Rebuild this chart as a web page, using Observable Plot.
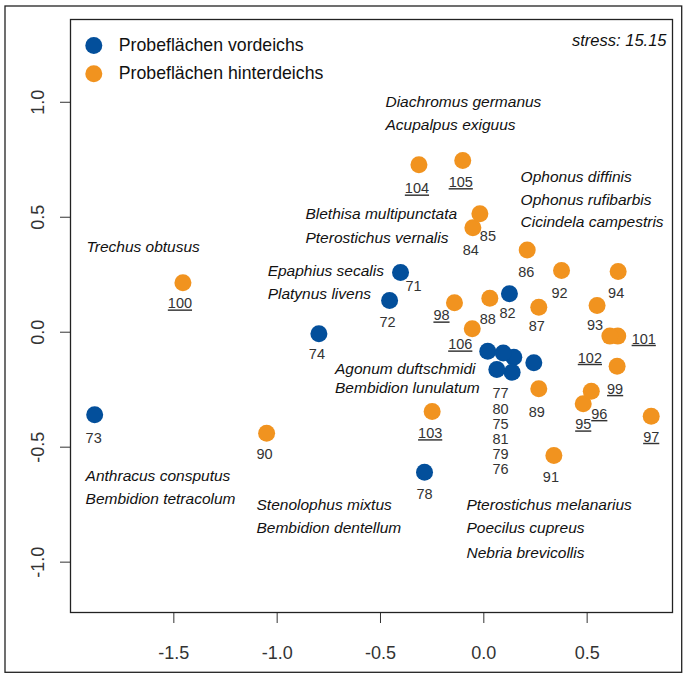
<!DOCTYPE html>
<html><head><meta charset="utf-8">
<script src="https://cdn.jsdelivr.net/npm/d3@7"></script>
<script src="https://cdn.jsdelivr.net/npm/@observablehq/plot@0.6"></script>
<style>
html,body{margin:0;padding:0;background:#fff;}
#chart{width:687px;height:676px;}
</style></head><body><div id="chart"></div>
<script>
// ---- data ----
const groupNames = ["Probeflächen vordeichs", "Probeflächen hinterdeichs"];
const groupColors = ["#034f9b", "#f1931f"];

const siteIds = [71,72,73,74,75,76,77,78,79,80,81,82,
                 84,85,86,87,88,89,90,91,92,93,94,95,96,97,98,99,100,101,102,103,104,105,106];
const siteGroup = [0,0,0,0,0,0,0,0,0,0,0,0,
                   1,1,1,1,1,1,1,1,1,1,1,1,1,1,1,1,1,1,1,1,1,1,1];
const nmds1 = [-0.403,-0.456,-1.883,-0.798,0.145,0.242,0.019,-0.287,0.137,0.094,0.063,0.124,
               -0.053,-0.019,0.210,0.266,0.029,0.266,-1.051,0.339,0.376,0.548,0.650,0.481,0.520,0.810,-0.142,0.645,-1.456,0.648,0.610,-0.250,-0.314,-0.102,-0.056];
const nmds2 = [0.260,0.138,-0.359,-0.007,-0.109,-0.133,-0.083,-0.609,-0.174,-0.090,-0.162,0.167,
               0.454,0.515,0.358,0.109,0.148,-0.246,-0.439,-0.536,0.268,0.116,0.264,-0.311,-0.257,-0.365,0.128,-0.148,0.215,-0.017,-0.017,-0.345,0.728,0.747,0.015];
const underlinedIds = [95,96,97,98,99,100,101,102,103,104,105,106];
// sites whose labels are listed together under the dense cluster
const clusterIds = [77,80,75,81,79,76];

const speciesNames = [
  "Diachromus germanus","Acupalpus exiguus",
  "Ophonus diffinis","Ophonus rufibarbis","Cicindela campestris",
  "Blethisa multipunctata","Pterostichus vernalis",
  "Trechus obtusus",
  "Epaphius secalis","Platynus livens",
  "Agonum duftschmidi","Bembidion lunulatum",
  "Anthracus consputus","Bembidion tetracolum",
  "Stenolophus mixtus","Bembidion dentellum",
  "Pterostichus melanarius","Poecilus cupreus","Nebria brevicollis"
];
const speciesX = [-0.476,-0.476, 0.178,0.178,0.178, -0.863,-0.863, -1.923, -1.046,-1.046,
                  -0.720,-0.720, -1.927,-1.927, -1.100,-1.100, -0.084,-0.084,-0.084];
const speciesY = [1.003,0.903, 0.677,0.576,0.478, 0.514,0.410, 0.370, 0.265,0.164,
                  -0.158,-0.243, -0.626,-0.724, -0.750,-0.852, -0.750,-0.852,-0.961];

const stressValue = 15.15;
const xTicks = [-1.5,-1.0,-0.5,0.0,0.5];
const yTicks = [-1.0,-0.5,0.0,0.5,1.0];

// ---- layout (label offsets in px, per site id order) ----
const labelDx = [13,-2,-1,-2,0,0,0,0,0,0,0,-2,
                 -2,8,-1,-2,-2,-2,-2,-3,-2,-2,-2,0,8,0,-13,-2,-3,26,-20,-2,-2,-2,-12];
const labelDy = [14,22,24,21,0,0,0,22,0,0,0,20,
                 23,23,22,19,21,24,21,22,23,20,22,21,23,21,13,23,21,3,22,22,24,22,16];
const clusterLabelDx = 12.7, clusterLabelDy = 80;

const sites = siteIds.map((id, i) => ({
  id, group: groupNames[siteGroup[i]], x: nmds1[i], y: nmds2[i],
  under: underlinedIds.includes(id), dx: labelDx[i], dy: labelDy[i]
}));
const species = speciesNames.map((n, i) => ({name: n, x: speciesX[i], y: speciesY[i]}));
const clusterAnchor = sites.find(s => s.id === clusterIds[0]);

const fmt = d => d.toFixed(1);
const labelMarks = sites.filter(s => !clusterIds.includes(s.id)).map(s => Plot.text([s], {
  x: "x", y: "y", text: d => String(d.id), dx: s.dx, dy: s.dy,
  fontSize: 14.5, fill: "#333", textAnchor: "middle", lineAnchor: "middle",
  ariaDescription: s.under ? "underlined" : "plain"
}));

const svg = Plot.plot({
  width: 687, height: 676,
  marginLeft: 70, marginRight: 15, marginTop: 19, marginBottom: 64,
  x: {domain: [-2.0, 0.913], label: null},
  y: {domain: [-1.219, 1.36], label: null},
  color: {domain: groupNames, range: groupColors},
  style: {fontFamily: "'Liberation Sans', Arial, Helvetica, sans-serif", background: "#fff", color: "#222"},
  marks: [
    Plot.axisX({ticks: xTicks, tickSize: 11, tickPadding: 23, tickFormat: fmt, fontSize: 18, color: "#333", label: null}),
    Plot.axisY({ticks: yTicks, tickSize: 10, tickFormat: () => "", color: "#333", label: null}),
    Plot.text(yTicks, {y: d => d, text: fmt, frameAnchor: "left", dx: -32, rotate: -90, fontSize: 18, fill: "#333", textAnchor: "middle", lineAnchor: "middle"}),
    Plot.frame({stroke: "#222", strokeWidth: 1.3}),
    Plot.dot(sites, {x: "x", y: "y", r: 8.5, fill: "group", stroke: "none"}),
    ...labelMarks,
    Plot.text([clusterAnchor], {x: "x", y: "y", text: () => clusterIds.join("\n"), dx: clusterLabelDx, dy: clusterLabelDy,
      fontSize: 14.5, lineHeight: 1.04, fill: "#333", textAnchor: "middle", lineAnchor: "middle"}),
    Plot.text(species, {x: "x", y: "y", text: "name", textAnchor: "start", lineAnchor: "middle", fontSize: 15.5, fontStyle: "italic", fill: "#111"}),
    Plot.dot(groupNames, {frameAnchor: "top-left", dx: 23.3, dy: 26, r: 8.5, fill: d => d, stroke: "none", filter: (d, i) => i === 0}),
    Plot.dot(groupNames, {frameAnchor: "top-left", dx: 23.3, dy: 54.3, r: 8.5, fill: d => d, stroke: "none", filter: (d, i) => i === 1}),
    Plot.text([groupNames[0]], {frameAnchor: "top-left", dx: 48.3, dy: 26, text: d => d, textAnchor: "start", lineAnchor: "middle", fontSize: 17.7, fill: "#111"}),
    Plot.text([groupNames[1]], {frameAnchor: "top-left", dx: 48.3, dy: 54.3, text: d => d, textAnchor: "start", lineAnchor: "middle", fontSize: 17.7, fill: "#111"}),
    Plot.text([`stress: ${stressValue.toFixed(2)}`], {frameAnchor: "top-right", dx: -6, dy: 21, text: d => d, textAnchor: "end", lineAnchor: "middle", fontSize: 16.5, fontStyle: "italic", fill: "#111"})
  ]
});

d3.select(svg).selectAll('g[aria-description="underlined"] text').attr("text-decoration", "underline");
d3.select(svg).append("rect")
  .attr("x", 5).attr("y", 6).attr("width", 676.7).attr("height", 666.3)
  .attr("fill", "none").attr("stroke", "#222").attr("stroke-width", 1.3);

document.getElementById("chart").appendChild(svg);
</script>
</body></html>
